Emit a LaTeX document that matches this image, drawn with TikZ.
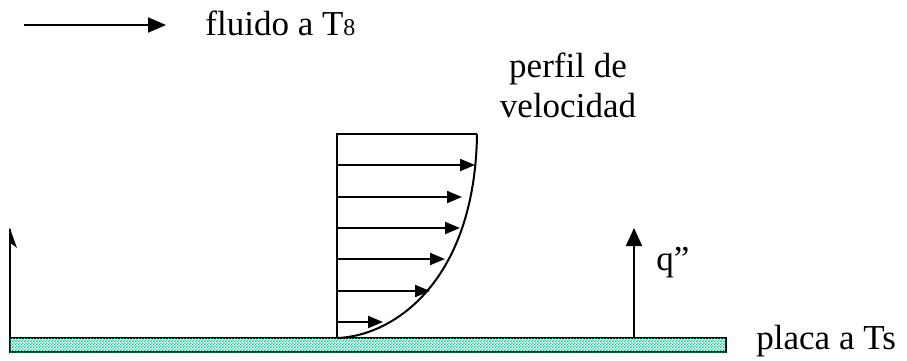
\documentclass[tikz,border=0pt]{standalone}
\usepackage{fontspec}
\setmainfont{Liberation Serif}
\usepackage{xcolor}
\usepackage{tikz}
\usetikzlibrary{patterns,arrows.meta}
\definecolor{placaverde}{RGB}{0,200,150}
\pgfdeclarepatternformonly{cuadritos}{\pgfpointorigin}{\pgfpoint{1.6pt}{1.6pt}}{\pgfpoint{1.6pt}{1.6pt}}{
  \pgfpathrectangle{\pgfpointorigin}{\pgfpoint{0.8pt}{0.8pt}}
  \pgfpathrectangle{\pgfpoint{0.8pt}{0.8pt}}{\pgfpoint{0.8pt}{0.8pt}}
  \pgfusepath{fill}}
\tikzset{
  flecha/.style={-{Triangle[length=9pt,width=7.5pt]},line width=1pt},
  flechita/.style={-{Triangle[length=7.5pt,width=6pt]},line width=1pt},
  perfil/.style={line width=1pt},
  placa/.style={draw=black,line width=0.9pt,fill=white,postaction={pattern=cuadritos,pattern color=placaverde}},
  txt/.style={inner sep=0pt,font=\fontsize{17.5}{20}\selectfont}
}

\begin{document}
\begin{tikzpicture}[x=0.5pt,y=-0.5pt]
\useasboundingbox (0,0) rectangle (907,360);
% flujo libre
\coordinate (f0) at (24,25); \coordinate (f1) at (166,25);
\draw[flecha] (f0) -- (f1);
\node[txt,anchor=base west] (fluido) at (205,35) {fluido a T{\fontsize{12}{12}\selectfont 8}};
% placa
\draw[placa] (10,338) rectangle (726,352);
\node[txt,anchor=base west] (placa) at (756,349) {placa a Ts};
% perfil de velocidad
\coordinate (p0) at (337,338); \coordinate (p1) at (337,134); \coordinate (p2) at (477,134);
\draw[perfil] (p0) -- (p1) -- (p2);
\draw[perfil] (p0) .. controls (395,336) and (475,280) .. (p2);
\foreach \y/\x in {165/475,197/462,228/460,259/445,291/430,322/383}{
  \draw[flechita] (337,\y) -- (\x,\y);}
\node[txt,align=center,anchor=base] (etiq) at (568,117) {perfil de\\velocidad};
% flujo de calor
\coordinate (q0) at (634,338); \coordinate (q1) at (634,228);
\draw[flecha,-{Triangle[length=9pt,width=8pt]}] (q0) -- (q1);
\node[txt,anchor=base west] (q) at (656,270) {q”};
% borde izquierdo
\coordinate (i0) at (10,338); \coordinate (i1) at (10,229);
\draw[line width=1pt] (i0) -- (i1);
\fill (9.5,227) -- (17,248) -- (10.5,243) -- cycle;
\end{tikzpicture}
\end{document}
